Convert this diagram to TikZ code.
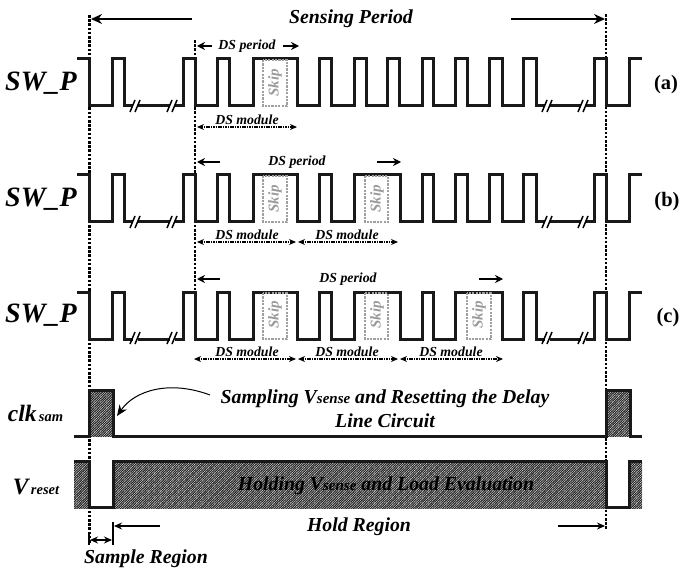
\documentclass[tikz,border=0pt]{standalone}
\usepackage{fontspec}
\setmainfont{Liberation Serif}
\usepackage{tikz}
\usetikzlibrary{arrows.meta, patterns.meta, positioning}

% left and right ends of a switching waveform, high level 0, low level 47
\newcommand{\swstart}{(77,0) -- (89,0) -- (89,47) -- (112,47) -- (112,0) -- (124,0) -- (124,47) -- (183,47) -- (183,0) -- (195,0) -- (195,47) -- (217,47) -- (217,0) -- (229,0) -- (229,47) -- (253,47) -- (253,0) -- (297,0) -- (297,47) -- (319,47) -- (319,0) -- (331,0) -- (331,47) -- (354,47) -- (354,0)}
\newcommand{\swend}{-- (536,0) -- (536,47) -- (594,47) -- (594,0) -- (606,0) -- (606,47) -- (629,47) -- (629,0) -- (642,0)}
\newcommand{\subsize}{\fontsize{14.5}{14.5}\selectfont}

\begin{document}
\begin{tikzpicture}[
  x=1pt, y=-1pt,
  wave/.style={line width=3pt, line join=miter, line cap=butt, black!90},
  skipbox/.style={gray!75, line width=1.8pt, dash pattern=on 2.2pt off 1.2pt},
  skiplabel/.style={rotate=90, gray!80, font=\fontsize{15}{15}\selectfont\itshape\bfseries},
  guide/.style={line width=2.2pt, dash pattern=on 2.6pt off 1.6pt},
  span/.style={line width=1.4pt, dash pattern=on 1.6pt off 0.8pt, <->, >={Stealth[length=7pt,width=6pt]}},
  dsarrow/.style={line width=1.6pt, ->, >={Stealth[length=8pt,width=8pt]}},
  longarrow/.style={line width=1.5pt, ->, >={Stealth[length=11pt,width=10pt]}},
  regionarrow/.style={line width=1.1pt, ->, >={Stealth[length=8pt,width=7pt]}},
  smalltext/.style={font=\fontsize{13.8}{13.8}\selectfont\itshape\bfseries},
  maintext/.style={font=\fontsize{19.8}{24}\selectfont\itshape\bfseries},
  siglabel/.style={font=\fontsize{28}{28}\selectfont\itshape\bfseries},
  clklabel/.style={font=\fontsize{23.5}{23.5}\selectfont\itshape\bfseries},
  tag/.style={font=\fontsize{20.5}{20.5}\selectfont\bfseries},
  hatch/.style={pattern={Lines[angle=45,distance=1.7pt,line width=1.2pt]}, pattern color=black!85}
]
\useasboundingbox (0,0) rectangle (679,569);

% Hatched regions
\fill[hatch] (89,390) rectangle (113,436);
\fill[hatch] (606,390) rectangle (630,436);
\fill[hatch] (74,461) rectangle (89,508);
\fill[hatch] (113,461) rectangle (606,508);
\fill[hatch] (629,461) rectangle (642,508);

% Vertical guides
\draw[guide] (89.5,15) -- (89.5,543);
\draw[guide] (195,40) -- (195,290);
\draw[guide] (606,14) -- (606,530);

% Row (a)
\begin{scope}[yshift=-59pt]
  \draw[wave] \swstart -- (366,0) -- (366,47) -- (387,47) -- (387,0) -- (399,0) -- (399,47) -- (422,47) -- (422,0) -- (433,0) -- (433,47) -- (455,47) -- (455,0) -- (467,0) -- (467,47) -- (489,47) -- (489,0) -- (502,0) -- (502,47) -- (523,47) -- (523,0) \swend;
  \draw[skipbox] (263,1) rectangle (287,47);
\end{scope}
\node[skiplabel] (skipa) at (275,83) {Skip};

% Row (b)
\begin{scope}[yshift=-175pt]
  \draw[wave] \swstart -- (400,0) -- (400,47) -- (422,47) -- (422,0) -- (433,0) -- (433,47) -- (455,47) -- (455,0) -- (467,0) -- (467,47) -- (489,47) -- (489,0) -- (502,0) -- (502,47) -- (523,47) -- (523,0) \swend;
  \draw[skipbox] (263,1) rectangle (287,47);
  \draw[skipbox] (365,1) rectangle (388,47);
\end{scope}
\node[skiplabel] (skipba) at (275,199) {Skip};
\node[skiplabel] (skipbb) at (377,199) {Skip};

% Row (c)
\begin{scope}[yshift=-292pt]
  \draw[wave] \swstart -- (400,0) -- (400,47) -- (422,47) -- (422,0) -- (433,0) -- (433,47) -- (455,47) -- (455,0) -- (502,0) -- (502,47) -- (523,47) -- (523,0) \swend;
  \draw[skipbox] (263,1) rectangle (287,47);
  \draw[skipbox] (365,1) rectangle (388,47);
  \draw[skipbox] (467,1) rectangle (491,47);
\end{scope}
\node[skiplabel] (skipca) at (275,315) {Skip};
\node[skiplabel] (skipcb) at (377,315) {Skip};
\node[skiplabel] (skipcc) at (479,315) {Skip};

% Break marks
\foreach \y in {106,222,338}{
  \foreach \x in {135,172,547,583}{
    \fill[white] (\x-2.5,\y-3) rectangle (\x+2.5,\y+3);
    \draw[line width=1.5pt] (\x-5,\y+6) -- (\x,\y-6);
    \draw[line width=1.5pt] (\x,\y+6) -- (\x+5,\y-6);
  }
}

% Sensing period
\node[maintext] (sensing) at (351,19) {Sensing Period};
\draw[longarrow] (192,19) -- (91,19);
\draw[longarrow] (511,19) -- (605,19);

% DS period labels
\node[smalltext] (perioda) at (247,46) {DS period};
\draw[dsarrow] (212,46) -- (197,46);
\draw[dsarrow] (283,46) -- (299,46);
\node[smalltext] (periodb) at (297,162) {DS period};
\draw[dsarrow] (220,162) -- (197,162);
\draw[dsarrow] (377,162) -- (401,162);
\node[smalltext] (periodc) at (348,279) {DS period};
\draw[dsarrow] (220,279) -- (197,279);
\draw[dsarrow] (479,279) -- (503,279);

% DS module spans
\node[smalltext] (modulea) at (247,120) {DS module};
\draw[span] (197,127) -- (297,127);
\node[smalltext] (moduleba) at (247,235) {DS module};
\node[smalltext] (modulebb) at (347,235) {DS module};
\draw[span] (197,242) -- (296,242);
\draw[span] (298,242) -- (398,242);
\node[smalltext] (moduleca) at (247,352) {DS module};
\node[smalltext] (modulecb) at (347,352) {DS module};
\node[smalltext] (modulecc) at (451,352) {DS module};
\draw[span] (194,359) -- (296,359);
\draw[span] (298,359) -- (398,359);
\draw[span] (400,359) -- (503,359);

% Signal labels
\node[siglabel] (swa) at (41,83) {SW\_P};
\node[siglabel] (swb) at (41,199) {SW\_P};
\node[siglabel] (swc) at (41,315) {SW\_P};
\node[tag] (taga) at (666,85) {(a)};
\node[tag] (tagb) at (667,202) {(b)};
\node[tag] (tagc) at (668,318) {(c)};
\node[clklabel] (clk) at (35.5,413) {clk{\subsize\,sam}};
\node[clklabel] (vreset) at (36,487) {V{\subsize\,reset}};

% Sampling clock and reset waveforms
\draw[wave] (74,436) -- (89,436) -- (89,390) -- (113,390) -- (113,436) -- (606,436) -- (606,390) -- (630,390) -- (630,436) -- (642,436);
\draw[wave] (74,461) -- (89,461) -- (89,507) -- (113,507) -- (113,461) -- (606,461) -- (606,507) -- (629,507) -- (629,461) -- (642,461);

% Annotations
\node[maintext, align=center] (sampling) at (385,409) {Sampling V{\fontsize{15}{15}\selectfont sense} and Resetting the Delay\\Line Circuit};
\draw[line width=1pt, ->, >={Stealth[length=11pt,width=9pt]}] (210,395) .. controls (170,380) and (135,390) .. (117,416);
\node[maintext] (holding) at (386,486) {Holding V{\fontsize{15}{15}\selectfont sense} and Load Evaluation};

% Regions
\node[maintext] (hold) at (359,527) {Hold Region};
\node[maintext] (sample) at (146,559) {Sample Region};
\draw[line width=1.2pt] (113,522) -- (113,545);
\draw[line width=1.2pt] (89,533) -- (89,545);
\draw[regionarrow] (160,526) -- (114,526);
\draw[regionarrow] (558,526) -- (605,526);
\draw[regionarrow, <->] (90,540) -- (112,540);
\end{tikzpicture}
\end{document}
